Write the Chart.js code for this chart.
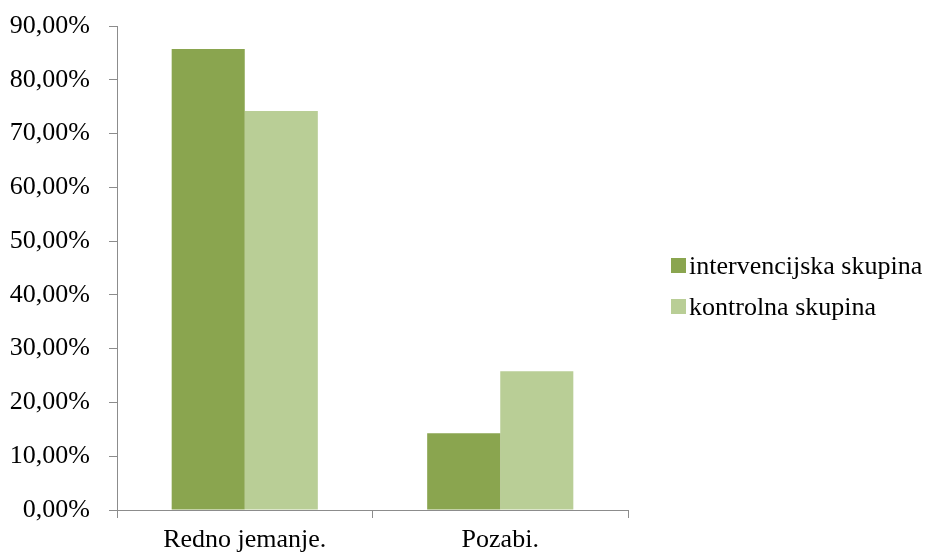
<!DOCTYPE html>
<html>
<head>
<meta charset="utf-8">
<script src="https://cdn.jsdelivr.net/npm/chart.js@4/dist/chart.umd.min.js"></script>
<style>
  html, body { margin: 0; padding: 0; background: #fff; }
  #wrap { width: 931px; height: 555px; }
</style>
</head>
<body>
<div id="wrap"><canvas id="c" width="931" height="555"></canvas></div>
<script>
const categories = ['Redno jemanje.', 'Pozabi.'];
const seriesNames = ['intervencijska skupina', 'kontrolna skupina'];
const intervencijska = [85.71, 14.29];
const kontrolna = [74.19, 25.81];
const yTicks = [0, 10, 20, 30, 40, 50, 60, 70, 80, 90];

const colors = ['#8AA54F', '#B9CE96'];
const axisColor = '#8C8C8C';
const fontFamily = '"Liberation Serif", "Times New Roman", serif';
const fontSize = 26;

// Legend drawn to the right of the plot, vertically stacked.
const sideLegend = {
  id: 'sideLegend',
  afterDraw(chart) {
    const ctx = chart.ctx;
    const rows = [267, 308];
    ctx.save();
    ctx.font = fontSize + 'px ' + fontFamily;
    ctx.textBaseline = 'middle';
    ctx.textAlign = 'left';
    chart.data.datasets.forEach((ds, i) => {
      const y = rows[i];
      ctx.fillStyle = ds.backgroundColor;
      ctx.fillRect(671, y - 9, 15, 15);
      ctx.fillStyle = '#000';
      ctx.fillText(ds.label, 689, y);
    });
    ctx.restore();
  }
};

new Chart(document.getElementById('c'), {
  type: 'bar',
  data: {
    labels: categories,
    datasets: [
      { label: seriesNames[0], data: intervencijska, backgroundColor: colors[0] },
      { label: seriesNames[1], data: kontrolna, backgroundColor: colors[1] }
    ]
  },
  options: {
    responsive: false,
    animation: false,
    devicePixelRatio: 1,
    layout: { padding: { top: 26, right: 303, left: 0, bottom: 0 } },
    plugins: {
      legend: { display: false },
      tooltip: { enabled: false }
    },
    datasets: {
      bar: { barPercentage: 1.0, categoryPercentage: 0.572 }
    },
    scales: {
      x: {
        afterFit(scale) {
          scale.height = 45;
          scale.paddingLeft = 0;
          scale.paddingRight = 0;
        },
        grid: {
          display: true,
          drawOnChartArea: false,
          offset: true,
          tickLength: 8,
          color: axisColor
        },
        border: { display: true, color: axisColor, width: 1 },
        ticks: {
          color: '#000',
          padding: 7,
          font: { family: fontFamily, size: fontSize },
          maxRotation: 0
        }
      },
      y: {
        min: 0,
        max: 90,
        afterFit(scale) {
          scale.width = 117;
          scale.paddingTop = 0;
          scale.paddingBottom = 0;
        },
        afterBuildTicks(scale) { scale.ticks = yTicks.map(v => ({ value: v })); },
        grid: {
          display: true,
          drawOnChartArea: false,
          tickLength: 8,
          color: axisColor
        },
        border: { display: true, color: axisColor, width: 1 },
        ticks: {
          color: '#000',
          padding: 19,
          font: { family: fontFamily, size: fontSize },
          callback: v => v.toFixed(2).replace('.', ',') + '%'
        }
      }
    }
  },
  plugins: [sideLegend]
});
</script>
</body>
</html>
